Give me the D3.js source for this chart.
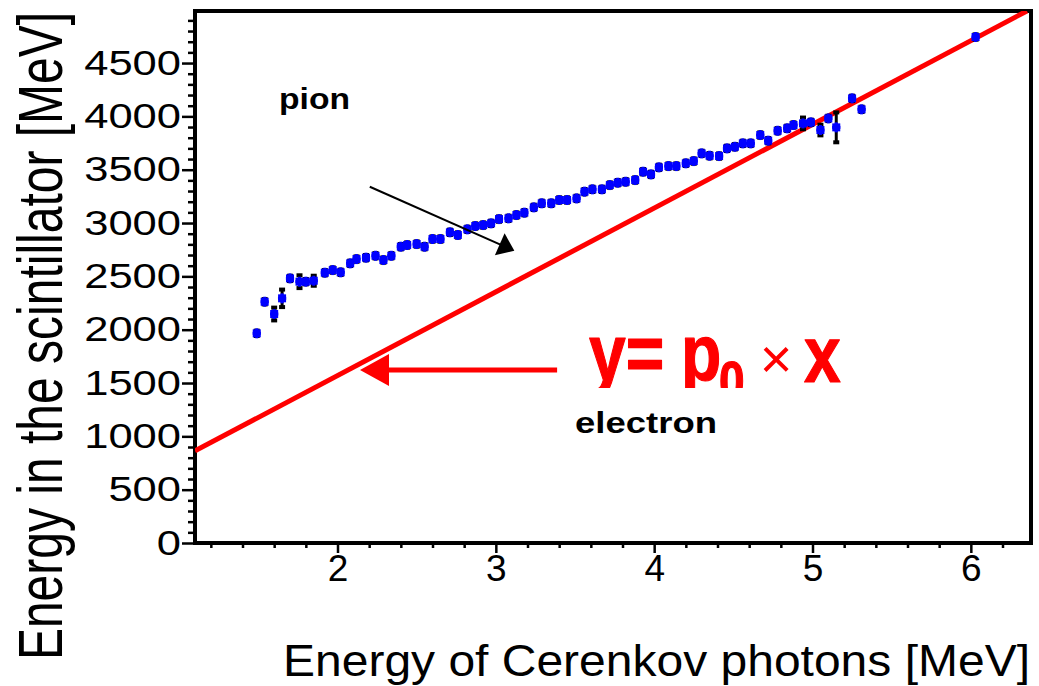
<!DOCTYPE html>
<html><head><meta charset="utf-8">
<script src="https://cdn.jsdelivr.net/npm/d3@7"></script>
<style>html,body{margin:0;padding:0;background:#fff;}svg{display:block;}</style>
</head><body><svg id="c" width="1039" height="686"></svg>
<script>
// ---- data ----
const xTickValues = [2, 3, 4, 5, 6];
const xTickLabels = ["2", "3", "4", "5", "6"];
const yTickValues = [0, 500, 1000, 1500, 2000, 2500, 3000, 3500, 4000, 4500];
const yTickLabels = ["0", "500", "1000", "1500", "2000", "2500", "3000", "3500", "4000", "4500"];
const pionX = [1.49,1.54,1.60,1.65,1.70,1.76,1.80,1.85,1.92,1.97,2.02,2.08,2.12,2.18,2.24,2.29,2.34,2.40,2.44,2.50,2.55,2.60,2.65,2.71,2.76,2.82,2.87,2.92,2.97,3.02,3.08,3.13,3.18,3.24,3.29,3.35,3.40,3.45,3.51,3.56,3.61,3.67,3.72,3.77,3.82,3.88,3.93,3.98,4.03,4.09,4.14,4.20,4.25,4.30,4.35,4.41,4.46,4.51,4.56,4.61,4.67,4.72,4.78,4.84,4.88,4.94,4.99,5.05,5.10,5.15,5.25,5.31,6.03];
const pionY = [1966,2262,2147,2294,2481,2450,2450,2459,2534,2559,2538,2622,2662,2675,2693,2653,2693,2778,2794,2803,2778,2850,2850,2913,2888,2941,2972,2981,2997,3037,3044,3075,3097,3147,3185,3185,3216,3216,3231,3294,3316,3316,3356,3378,3387,3403,3481,3456,3522,3534,3534,3560,3581,3653,3631,3628,3700,3715,3747,3747,3825,3772,3865,3888,3919,3934,3944,3872,3981,3897,4169,4066,4744];
const pionErr = [25,25,60,82,25,60,25,47,25,25,25,25,25,25,25,25,25,25,25,25,25,25,25,25,25,25,25,25,25,25,25,25,25,25,25,25,25,25,25,25,25,25,25,25,25,25,25,25,25,25,25,25,25,25,25,25,25,25,25,25,25,25,25,25,25,55,25,50,25,140,25,25,25];
const pionBinHalf = 0.026;
const fitP0 = 785;
const xTitle = "Energy of Cerenkov photons [MeV]";
const yTitle = "Energy in the scintillator [MeV]";

// ---- chart ----
const FONT = '"Liberation Sans", Arial, Helvetica, sans-serif';
const svg = d3.select('#c');
const L = 195, R = 1031, T = 11, B = 543;
const x = d3.scaleLinear().domain([1.1, 6.38]).range([L, R]);
const y = d3.scaleLinear().domain([0, 4988]).range([B, T]);

svg.append('defs').append('clipPath').attr('id', 'plot')
  .append('rect').attr('x', L).attr('y', T).attr('width', R - L).attr('height', B - T);
svg.select('defs').append('clipPath').attr('id', 'fclip')
  .append('rect').attr('x', 0).attr('y', 0).attr('width', 1039).attr('height', 388);

// minor ticks
const xMinor = d3.range(12, 64, 2).map(v => v / 10).filter(v => Math.abs(v - Math.round(v)) > 1e-6);
const yMinor = d3.range(100, 5000, 100).filter(v => v % 500 !== 0);
const gxm = svg.append('g').attr('transform', `translate(0,${B})`)
  .call(d3.axisBottom(x).tickValues(xMinor).tickSize(5).tickFormat(''));
gxm.select('.domain').remove();
gxm.selectAll('line').attr('stroke', '#000').attr('stroke-width', 2.5);
const gym = svg.append('g').attr('transform', `translate(${L},0)`)
  .call(d3.axisLeft(y).tickValues(yMinor).tickSize(7).tickFormat(''));
gym.select('.domain').remove();
gym.selectAll('line').attr('stroke', '#000').attr('stroke-width', 2.5);

// major ticks
const gx = svg.append('g').attr('transform', `translate(0,${B})`)
  .call(d3.axisBottom(x).tickValues(xTickValues).tickSize(10).tickPadding(2)
    .tickFormat((d, i) => xTickLabels[i]));
gx.select('.domain').remove();
gx.selectAll('line').attr('stroke', '#000').attr('stroke-width', 2.5);
gx.selectAll('text').attr('font-size', 37).attr('font-family', FONT).attr('fill', '#000');

const gy = svg.append('g').attr('transform', `translate(${L},0)`)
  .call(d3.axisLeft(y).tickValues(yTickValues).tickSize(13).tickPadding(1)
    .tickFormat((d, i) => yTickLabels[i]));
gy.select('.domain').remove();
gy.selectAll('line').attr('stroke', '#000').attr('stroke-width', 2.5);
gy.selectAll('text').attr('font-size', 35).attr('font-family', FONT).attr('fill', '#000')
  .attr('textLength', (d, i) => yTickLabels[i].length * 24.2).attr('lengthAdjust', 'spacingAndGlyphs');

// frame
svg.append('rect').attr('x', L).attr('y', T).attr('width', R - L).attr('height', B - T)
  .attr('fill', 'none').attr('stroke', '#000').attr('stroke-width', 4);

const plot = svg.append('g').attr('clip-path', 'url(#plot)');

// fit line y = p0 * x
const fitX = [x.domain()[0], y.domain()[1] / fitP0];
plot.append('path')
  .attr('d', d3.line().x(d => x(d)).y(d => y(fitP0 * d))(fitX))
  .attr('stroke', '#ff0000').attr('stroke-width', 5).attr('fill', 'none');

// pion points
const pts = pionX.map((v, i) => ({x: v, y: pionY[i], e: pionErr[i]}));
plot.selectAll('line.ey').data(pts).join('line').attr('class', 'ey')
  .attr('x1', d => x(d.x)).attr('x2', d => x(d.x))
  .attr('y1', d => y(d.y - d.e)).attr('y2', d => y(d.y + d.e))
  .attr('stroke', '#000').attr('stroke-width', 3);
plot.selectAll('rect.cap').data(pts.flatMap(d => [d.y - d.e, d.y + d.e].map(v => ({x: d.x, v}))))
  .join('rect').attr('class', 'cap')
  .attr('x', d => x(d.x) - 3).attr('y', d => y(d.v) - 2).attr('width', 6).attr('height', 4).attr('fill', '#000');
plot.selectAll('line.ex').data(pts).join('line').attr('class', 'ex')
  .attr('x1', d => x(d.x - pionBinHalf)).attr('x2', d => x(d.x + pionBinHalf))
  .attr('y1', d => y(d.y)).attr('y2', d => y(d.y))
  .attr('stroke', '#0000ff').attr('stroke-width', 3);
plot.selectAll('line.ey2').data(pts).join('line').attr('class', 'ey2')
  .attr('x1', d => x(d.x)).attr('x2', d => x(d.x))
  .attr('y1', d => y(d.y) - 5).attr('y2', d => y(d.y) + 5)
  .attr('stroke', '#0000ff').attr('stroke-width', 3);
plot.selectAll('rect.m').data(pts).join('rect').attr('class', 'm')
  .attr('x', d => x(d.x) - 4).attr('y', d => y(d.y) - 4).attr('width', 8).attr('height', 8)
  .attr('fill', '#0000ff');

// annotations
function arrow(g, x0, y0, x1, y1, color, w, hl, hw) {
  const dx = x1 - x0, dy = y1 - y0, len = Math.hypot(dx, dy);
  const ux = dx / len, uy = dy / len;
  const bx = x1 - ux * hl, by = y1 - uy * hl;
  g.append('line').attr('x1', x0).attr('y1', y0).attr('x2', bx + ux * 2).attr('y2', by + uy * 2)
    .attr('stroke', color).attr('stroke-width', w);
  g.append('path').attr('d', `M${x1},${y1}L${bx - uy * hw},${by + ux * hw}L${bx + uy * hw},${by - ux * hw}Z`)
    .attr('fill', color);
}
arrow(svg, x(2.204), y(3340), x(3.117), y(2740), '#000', 2, 16, 12);
arrow(svg, x(3.387), y(1622), x(2.142), y(1622), '#ff0000', 5, 29, 16);

svg.append('text').attr('x', x(1.631)).attr('y', y(4069)).text('pion')
  .attr('font-family', FONT).attr('font-weight', 'bold').attr('font-size', 30)
  .attr('textLength', 71).attr('lengthAdjust', 'spacingAndGlyphs');
svg.append('text').attr('x', x(3.50)).attr('y', y(1031)).text('electron')
  .attr('font-family', FONT).attr('font-weight', 'bold').attr('font-size', 30)
  .attr('textLength', 142).attr('lengthAdjust', 'spacingAndGlyphs');

// formula
const fg = svg.append('g').attr('clip-path', 'url(#fclip)');
const fx0 = x(3.627), fy0 = y(1500);
const f = fg.append('g').attr('transform', `translate(${fx0},${fy0 - 3}) scale(1,1.2)`)
  .attr('fill', '#ff0000').attr('stroke', '#ff0000').attr('stroke-width', 1)
  .attr('stroke-linejoin', 'round').attr('font-family', FONT).attr('font-weight', 'bold');
f.append('text').attr('x', -6).attr('y', 0).attr('font-size', 66).text('y=');
f.append('text').attr('x', 86).attr('y', 0).attr('font-size', 66).text('p');
f.append('text').attr('x', 124).attr('y', 17).attr('font-size', 46).text('0');
f.append('text').attr('x', 209).attr('y', 2).attr('font-size', 66).text('x');
fg.append('text').attr('x', fx0 + 181).attr('y', 378).attr('text-anchor', 'middle')
  .attr('font-size', 56).attr('fill', '#ff0000').attr('font-family', FONT).text('\u00d7');

// axis titles
svg.append('text').attr('x', 283).attr('y', 676).text(xTitle)
  .attr('font-family', FONT).attr('font-size', 45)
  .attr('textLength', 747).attr('lengthAdjust', 'spacingAndGlyphs');
svg.append('text').attr('transform', 'translate(62,336) rotate(-90) scale(1,1.3)')
  .attr('text-anchor', 'middle').text(yTitle)
  .attr('font-family', FONT).attr('font-size', 48);
</script></body></html>
